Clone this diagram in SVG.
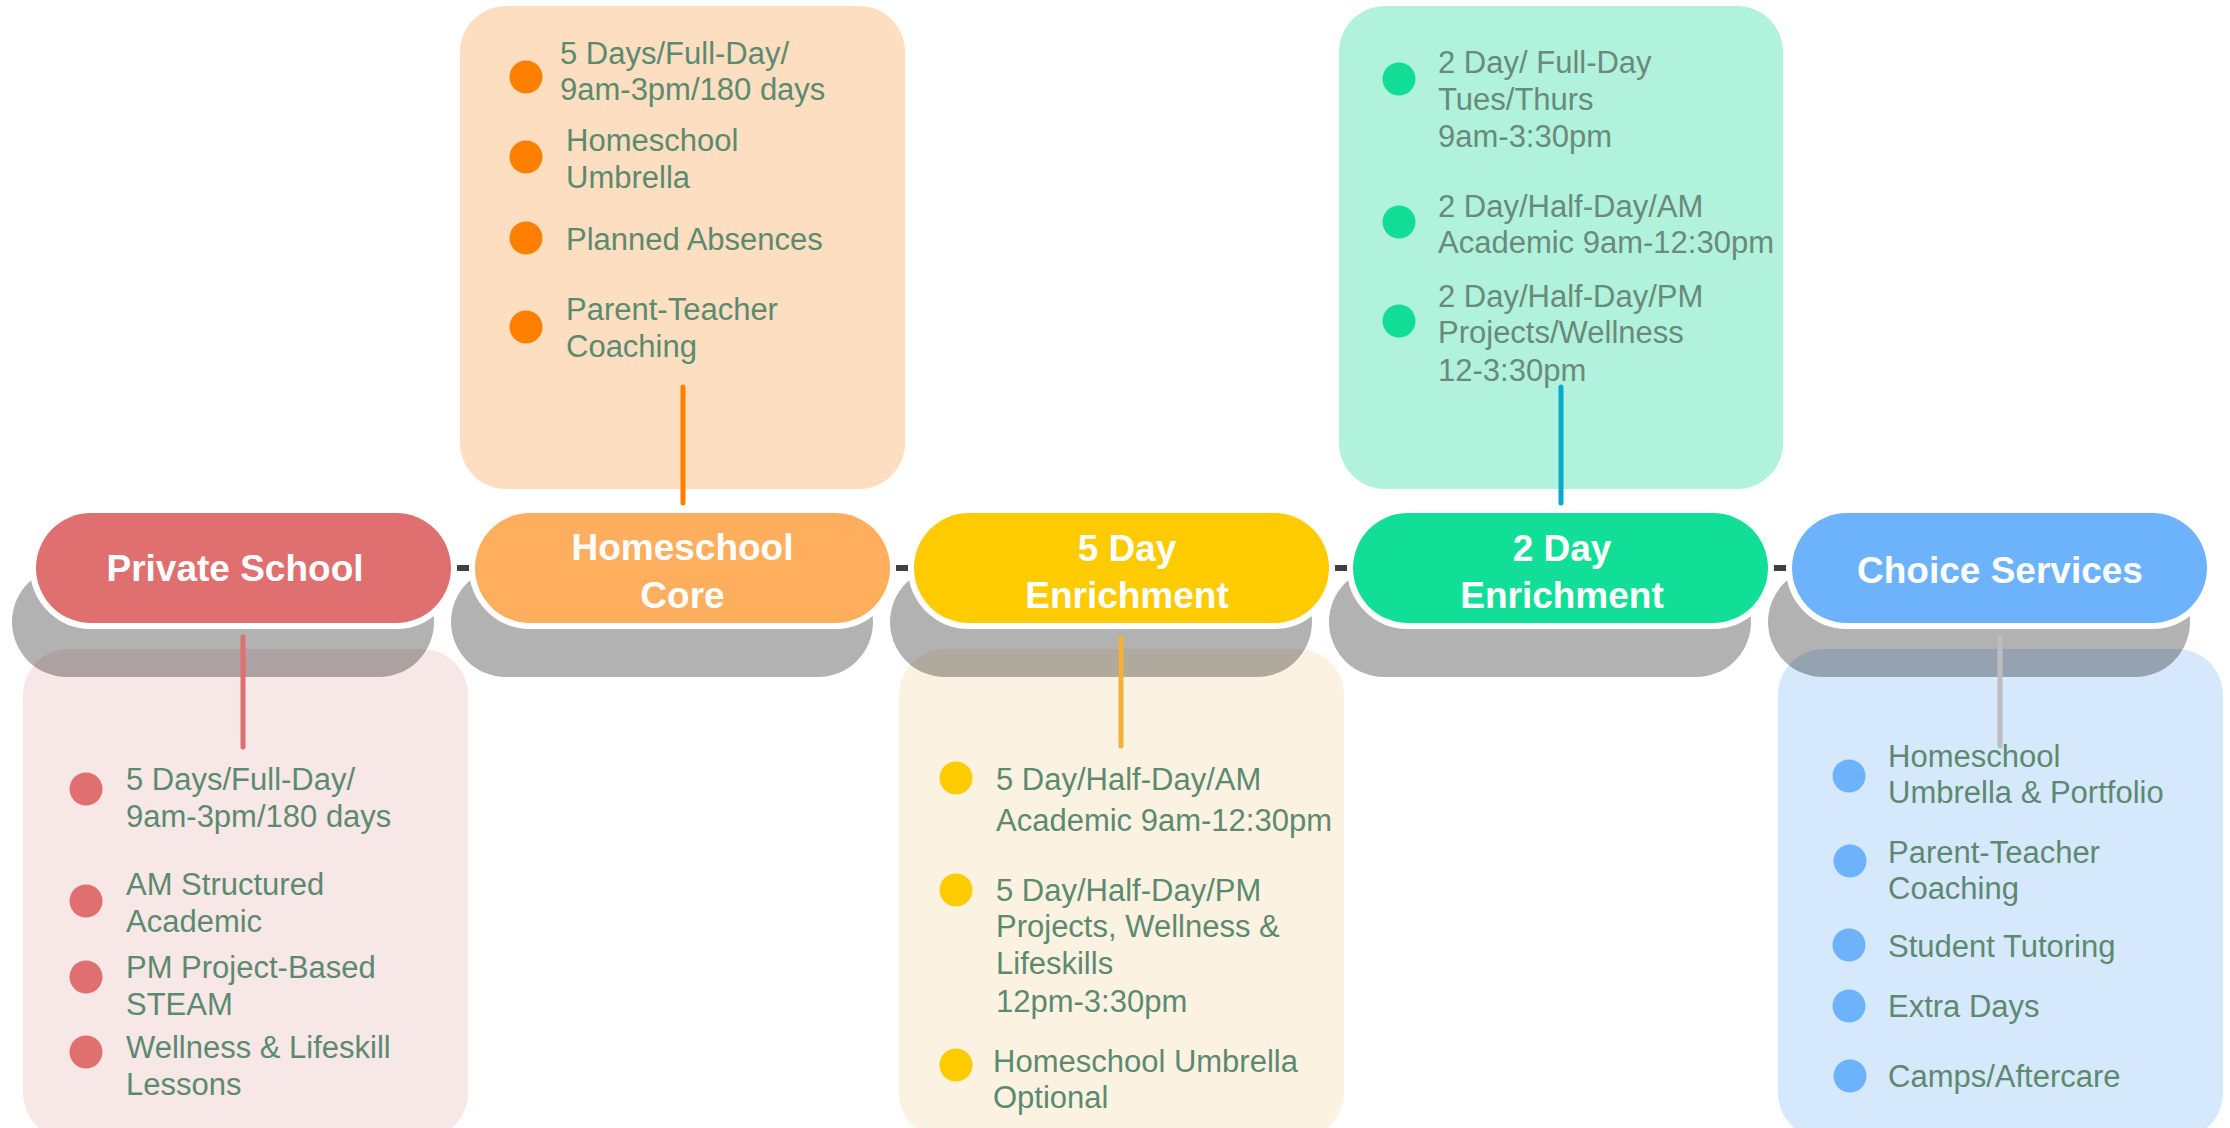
<svg xmlns="http://www.w3.org/2000/svg" width="2230" height="1128" viewBox="0 0 2230 1128">
<style>
.lbl{font-family:"Liberation Sans",Arial,sans-serif;font-weight:bold;font-size:37px;fill:#fff;text-anchor:middle}
.txt{font-family:"Liberation Sans",Arial,sans-serif;font-size:31px;fill:#5C8A70}
.txt2{font-family:"Liberation Sans",Arial,sans-serif;font-size:31px;fill:#6A8A7A}
.shadow{fill:#000;fill-opacity:0.3}
.pill{stroke:#fff;stroke-width:12;paint-order:stroke}
.conn{fill:none;stroke-linecap:round;stroke-width:5}
.hconn{stroke:#404040;stroke-width:6}
</style>
<rect width="2230" height="1128" fill="#fff"/>

<g id="node-private-school">
  <rect x="23" y="649" width="445" height="490" rx="46" fill="#F8E7E7"/>
  <rect class="shadow" x="12" y="567" width="422" height="110" rx="55"/>
  <rect class="pill" x="36" y="513" width="415" height="110" rx="55" fill="#E07070"/>
  <text class="lbl" x="235" y="581">Private School</text>
  <g fill="#E07070">
    <circle cx="86" cy="789" r="16.5"/>
    <circle cx="86" cy="901" r="16.5"/>
    <circle cx="86" cy="977" r="16.5"/>
    <circle cx="86" cy="1052" r="16.5"/>
  </g>
  <text class="txt" x="126" y="790">5 Days/Full-Day/</text>
  <text class="txt" x="126" y="827">9am-3pm/180 days</text>
  <text class="txt" x="126" y="895">AM Structured</text>
  <text class="txt" x="126" y="932">Academic</text>
  <text class="txt" x="126" y="978">PM Project-Based</text>
  <text class="txt" x="126" y="1015">STEAM</text>
  <text class="txt" x="126" y="1058">Wellness &amp; Lifeskill</text>
  <text class="txt" x="126" y="1095">Lessons</text>
</g>

<g id="node-homeschool-core">
  <rect x="460" y="6" width="445" height="483" rx="46" fill="#FDDEC0"/>
  <rect class="shadow" x="451" y="567" width="422" height="110" rx="55"/>
  <rect class="pill" x="475" y="513" width="415" height="110" rx="55" fill="#FFAE5E"/>
  <text class="lbl" x="682.5" y="560">Homeschool</text>
  <text class="lbl" x="682.5" y="608">Core</text>
  <g fill="#FF7F00">
    <circle cx="526" cy="77" r="16.5"/>
    <circle cx="526" cy="157" r="16.5"/>
    <circle cx="526" cy="238" r="16.5"/>
    <circle cx="526" cy="327" r="16.5"/>
  </g>
  <text class="txt" x="560" y="64">5 Days/Full-Day/</text>
  <text class="txt" x="560" y="100">9am-3pm/180 days</text>
  <text class="txt" x="566" y="151">Homeschool</text>
  <text class="txt" x="566" y="188">Umbrella</text>
  <text class="txt" x="566" y="250">Planned Absences</text>
  <text class="txt" x="566" y="320">Parent-Teacher</text>
  <text class="txt" x="566" y="357">Coaching</text>
</g>

<g id="node-5-day-enrichment">
  <rect x="899" y="649" width="445" height="490" rx="46" fill="#FCF2E1"/>
  <rect class="shadow" x="890" y="567" width="422" height="110" rx="55"/>
  <rect class="pill" x="914" y="513" width="415" height="110" rx="55" fill="#FECA00"/>
  <text class="lbl" x="1127" y="561">5 Day</text>
  <text class="lbl" x="1127" y="608">Enrichment</text>
  <g fill="#FECA00">
    <circle cx="956" cy="778" r="16.5"/>
    <circle cx="956" cy="890" r="16.5"/>
    <circle cx="956" cy="1065" r="16.5"/>
  </g>
  <text class="txt" x="996" y="790">5 Day/Half-Day/AM</text>
  <text class="txt" x="996" y="831">Academic 9am-12:30pm</text>
  <text class="txt" x="996" y="901">5 Day/Half-Day/PM</text>
  <text class="txt" x="996" y="937">Projects, Wellness &amp;</text>
  <text class="txt" x="996" y="974">Lifeskills</text>
  <text class="txt" x="996" y="1012">12pm-3:30pm</text>
  <text class="txt" x="993" y="1072">Homeschool Umbrella</text>
  <text class="txt" x="993" y="1108">Optional</text>
</g>

<g id="node-2-day-enrichment">
  <rect x="1339" y="6" width="444" height="483" rx="46" fill="#B0F2DC"/>
  <rect class="shadow" x="1329" y="567" width="422" height="110" rx="55"/>
  <rect class="pill" x="1353" y="513" width="415" height="110" rx="55" fill="#12DF97"/>
  <text class="lbl" x="1562" y="561">2 Day</text>
  <text class="lbl" x="1562" y="608">Enrichment</text>
  <g fill="#12DD96">
    <circle cx="1399" cy="79" r="16.5"/>
    <circle cx="1399" cy="222" r="16.5"/>
    <circle cx="1399" cy="321" r="16.5"/>
  </g>
  <text class="txt2" x="1438" y="73">2 Day/ Full-Day</text>
  <text class="txt2" x="1438" y="110">Tues/Thurs</text>
  <text class="txt2" x="1438" y="147">9am-3:30pm</text>
  <text class="txt2" x="1438" y="217">2 Day/Half-Day/AM</text>
  <text class="txt2" x="1438" y="253">Academic 9am-12:30pm</text>
  <text class="txt2" x="1438" y="307">2 Day/Half-Day/PM</text>
  <text class="txt2" x="1438" y="343">Projects/Wellness</text>
  <text class="txt2" x="1438" y="381">12-3:30pm</text>
</g>

<g id="node-choice-services">
  <rect x="1778" y="649" width="445" height="490" rx="46" fill="#D6E8FC"/>
  <rect class="shadow" x="1768" y="567" width="422" height="110" rx="55"/>
  <rect class="pill" x="1792" y="513" width="415" height="110" rx="55" fill="#6DB3FB"/>
  <text class="lbl" x="2000" y="583">Choice Services</text>
  <g fill="#6DB3FB">
    <circle cx="1849" cy="776" r="16.5"/>
    <circle cx="1850" cy="861" r="16.5"/>
    <circle cx="1849" cy="945" r="16.5"/>
    <circle cx="1849" cy="1006" r="16.5"/>
    <circle cx="1850" cy="1076" r="16.5"/>
  </g>
  <text class="txt" x="1888" y="767">Homeschool</text>
  <text class="txt" x="1888" y="803">Umbrella &amp; Portfolio</text>
  <text class="txt" x="1888" y="863">Parent-Teacher</text>
  <text class="txt" x="1888" y="899">Coaching</text>
  <text class="txt" x="1888" y="957">Student Tutoring</text>
  <text class="txt" x="1888" y="1017">Extra Days</text>
  <text class="txt" x="1888" y="1087">Camps/Aftercare</text>
</g>

<g id="connectors">
  <line class="hconn" x1="457" y1="568" x2="469" y2="568"/>
  <line class="hconn" x1="896" y1="568" x2="908" y2="568"/>
  <line class="hconn" x1="1335" y1="568" x2="1347" y2="568"/>
  <line class="hconn" x1="1774" y1="568" x2="1786" y2="568"/>
  <line class="conn" stroke="#E07070" x1="243" y1="637" x2="243" y2="747"/>
  <line class="conn" stroke="#FF7F00" x1="683" y1="387" x2="683" y2="503"/>
  <line class="conn" stroke="#F4B135" x1="1121" y1="638" x2="1121" y2="746"/>
  <line class="conn" stroke="#0AA8CC" x1="1561" y1="387" x2="1561" y2="503"/>
  <line class="conn" stroke="#BDBDBD" x1="2000" y1="638" x2="2000" y2="746"/>
</g>
</svg>
